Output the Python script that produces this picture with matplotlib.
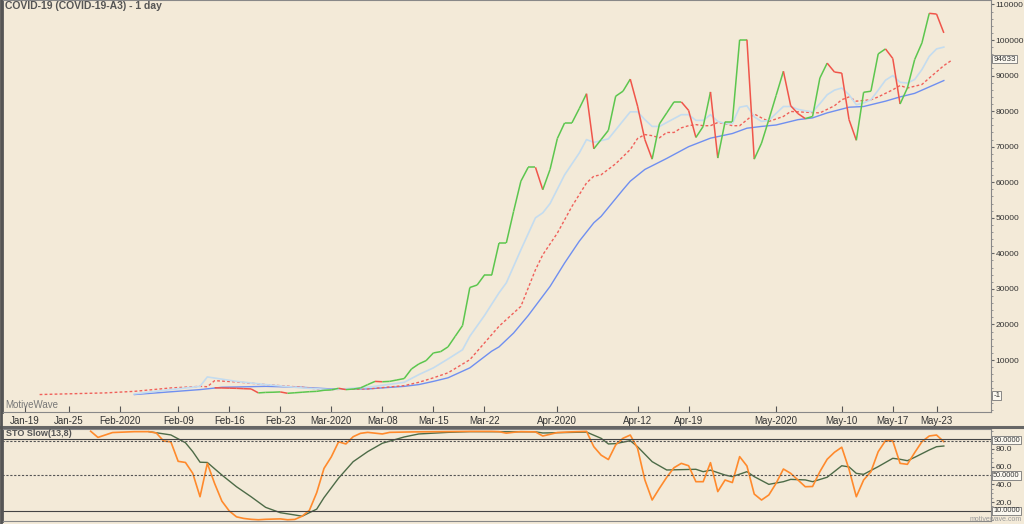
#!/usr/bin/env python
# coding: utf-8
import matplotlib
matplotlib.use("Agg")
import matplotlib.pyplot as plt
import matplotlib.dates as mdates
from matplotlib.collections import LineCollection
from matplotlib.lines import Line2D
from matplotlib.ticker import FixedLocator, MultipleLocator
import numpy as np
import pandas as pd

plt.rcParams['font.family'] = ['Liberation Sans', 'DejaVu Sans']

# daily value line, one value per day starting Feb 14
close_start = '2020-02-14'
close = [2200, 2150, 2100, 2050, 1950, 1880, 760, 900, 950, 1040,
         650, 800, 950, 1100, 1200, 1500, 1600, 2060, 1690, 1850,
         2160, 3100, 4000, 3900, 4000, 4400, 4800, 7500, 8900, 9840,
         12000, 12370, 13700, 16700, 19700, 30400, 31100, 33900, 33900, 42900,
         42900, 51800, 60300, 64200, 64200, 57900, 63600, 72300, 76700, 76700,
         80700, 84900, 69400, 72000, 74600, 84200, 85600, 89000, 81400, 72000,
         66500, 76400, 79500, 82600, 82600, 80200, 72600, 75700, 85400, 66800,
         77000, 77000, 100100, 100100, 66500, 71000, 77600, 84400, 91200, 81500,
         79300, 77900, 78500, 89300, 93500, 91000, 90700, 77600, 71800, 85300,
         85600, 96100, 97500, 94800, 82000, 86500, 94500, 99200, 107500, 107300,
         102000]

fast_dates = ['2020-02-03', '2020-02-08', '2020-02-12', '2020-02-13', '2020-02-17',
              '2020-02-21', '2020-02-26', '2020-03-01', '2020-03-06', '2020-03-11',
              '2020-03-13', '2020-03-15', '2020-03-17', '2020-03-19', '2020-03-20',
              '2020-03-22', '2020-03-24', '2020-03-25', '2020-03-27', '2020-03-29',
              '2020-03-30', '2020-03-31', '2020-04-02', '2020-04-04', '2020-04-05',
              '2020-04-06', '2020-04-08', '2020-04-11', '2020-04-12', '2020-04-13',
              '2020-04-14', '2020-04-15', '2020-04-16', '2020-04-18', '2020-04-19',
              '2020-04-20', '2020-04-21', '2020-04-22', '2020-04-23', '2020-04-24',
              '2020-04-25', '2020-04-26', '2020-04-27', '2020-04-28', '2020-04-29',
              '2020-04-30', '2020-05-02', '2020-05-03', '2020-05-04', '2020-05-05',
              '2020-05-06', '2020-05-07', '2020-05-08', '2020-05-09', '2020-05-10',
              '2020-05-11', '2020-05-12', '2020-05-13', '2020-05-14', '2020-05-15',
              '2020-05-16', '2020-05-17', '2020-05-18', '2020-05-19', '2020-05-20',
              '2020-05-21', '2020-05-22', '2020-05-23', '2020-05-24']
fast_ma = [480, 1690, 2600, 5250, 4000, 3100, 2160, 1690, 2340, 3740,
           5900, 7800, 10300, 12900, 16700, 22500, 28900, 31700, 41000, 50000,
           51400, 54000, 62100, 68200, 72000, 71200, 72200, 79800, 79800, 77600,
           75700, 75700, 76800, 79000, 79000, 77400, 77400, 79000, 77100, 76500,
           76500, 81100, 81500, 78400, 77100, 77400, 81300, 81300, 80500, 80100,
           79800, 82100, 84600, 85900, 86500, 84600, 81800, 82300, 83200, 85900,
           88700, 90000, 88100, 87900, 88900, 91700, 95400, 97500, 98000]

mid_dates = ['2020-01-21', '2020-01-30', '2020-02-03', '2020-02-08', '2020-02-12',
             '2020-02-13', '2020-02-14', '2020-02-17', '2020-02-21', '2020-02-26',
             '2020-02-29', '2020-03-06', '2020-03-11', '2020-03-13', '2020-03-15',
             '2020-03-17', '2020-03-20', '2020-03-22', '2020-03-24', '2020-03-27',
             '2020-03-29', '2020-03-30', '2020-04-01', '2020-04-03', '2020-04-05',
             '2020-04-06', '2020-04-07', '2020-04-09', '2020-04-11', '2020-04-12',
             '2020-04-13', '2020-04-14', '2020-04-15', '2020-04-16', '2020-04-17',
             '2020-04-18', '2020-04-19', '2020-04-20', '2020-04-21', '2020-04-22',
             '2020-04-23', '2020-04-24', '2020-04-25', '2020-04-26', '2020-04-28',
             '2020-04-29', '2020-04-30', '2020-05-02', '2020-05-03', '2020-05-05',
             '2020-05-07', '2020-05-09', '2020-05-10', '2020-05-11', '2020-05-12',
             '2020-05-13', '2020-05-14', '2020-05-15', '2020-05-17', '2020-05-18',
             '2020-05-19', '2020-05-21', '2020-05-22', '2020-05-24', '2020-05-25']
mid_ma = [300, 760, 1200, 2160, 2600, 2500, 4200, 3850, 3100, 2340,
          1690, 1880, 2800, 3740, 5000, 6400, 10100, 14800, 19500, 25100,
          35400, 39600, 45700, 53200, 59800, 61700, 62100, 65200, 69200, 72300,
          73400, 73100, 72500, 74000, 74000, 75300, 75900, 76200, 75900, 75900,
          76800, 76500, 75900, 75900, 79200, 78100, 77100, 78500, 79900, 79700,
          79500, 81500, 83200, 84000, 82800, 83000, 83200, 84000, 86000, 87200,
          86500, 87500, 89300, 92800, 94200]

slow_dates = ['2020-02-03', '2020-02-12', '2020-02-15', '2020-02-21', '2020-02-26',
              '2020-03-01', '2020-03-06', '2020-03-11', '2020-03-13', '2020-03-15',
              '2020-03-17', '2020-03-20', '2020-03-23', '2020-03-24', '2020-03-26',
              '2020-03-28', '2020-03-31', '2020-04-02', '2020-04-04', '2020-04-06',
              '2020-04-07', '2020-04-10', '2020-04-11', '2020-04-13', '2020-04-16',
              '2020-04-19', '2020-04-22', '2020-04-25', '2020-04-27', '2020-04-29',
              '2020-05-01', '2020-05-04', '2020-05-06', '2020-05-08', '2020-05-11',
              '2020-05-13', '2020-05-16', '2020-05-18', '2020-05-20', '2020-05-22',
              '2020-05-24']
slow_ma = [300, 1690, 2340, 2600, 2340, 1880, 1880, 2600, 3100, 4000,
           5000, 7800, 12500, 13700, 17600, 22500, 30700, 37300, 43400, 48600,
           50400, 57900, 60300, 63600, 66700, 70000, 72400, 73700, 75200, 75700,
           76100, 77600, 78100, 79500, 81100, 81300, 82800, 84000, 85000, 86800,
           88600]

# stochastic slow (13,8)
k_dates = ['2020-01-28', '2020-01-29', '2020-01-31', '2020-02-03', '2020-02-05',
           '2020-02-06', '2020-02-07', '2020-02-08', '2020-02-09', '2020-02-10',
           '2020-02-11', '2020-02-12', '2020-02-13', '2020-02-14', '2020-02-15',
           '2020-02-16', '2020-02-17', '2020-02-18', '2020-02-19', '2020-02-20',
           '2020-02-21', '2020-02-23', '2020-02-24', '2020-02-25', '2020-02-26',
           '2020-02-27', '2020-02-28', '2020-02-29', '2020-03-01', '2020-03-02',
           '2020-03-03', '2020-03-04', '2020-03-05', '2020-03-06', '2020-03-08',
           '2020-03-09', '2020-03-12', '2020-03-16', '2020-03-20', '2020-03-23',
           '2020-03-24', '2020-03-25', '2020-03-26', '2020-03-27', '2020-03-29',
           '2020-03-30', '2020-03-31', '2020-04-01', '2020-04-03', '2020-04-05',
           '2020-04-06', '2020-04-07', '2020-04-08', '2020-04-09', '2020-04-10',
           '2020-04-11', '2020-04-12', '2020-04-13', '2020-04-14', '2020-04-15',
           '2020-04-16', '2020-04-17', '2020-04-18', '2020-04-19', '2020-04-20',
           '2020-04-21', '2020-04-22', '2020-04-23', '2020-04-24', '2020-04-25',
           '2020-04-26', '2020-04-27', '2020-04-28', '2020-04-29', '2020-04-30',
           '2020-05-01', '2020-05-02', '2020-05-03', '2020-05-04', '2020-05-05',
           '2020-05-06', '2020-05-07', '2020-05-08', '2020-05-09', '2020-05-10',
           '2020-05-11', '2020-05-12', '2020-05-13', '2020-05-14', '2020-05-15',
           '2020-05-16', '2020-05-17', '2020-05-18', '2020-05-19', '2020-05-20',
           '2020-05-21', '2020-05-22', '2020-05-23', '2020-05-24']
k_vals = [100, 93, 98.5, 99.5, 99.5, 98, 89, 88, 66, 64.7,
          52.5, 26, 63.7, 41, 21, 10, 3.3, 1.5, 0.5, 0,
          0.5, 1, 0, 0.4, 4, 10.7, 30.6, 58, 71, 88,
          85.6, 93.8, 97.6, 98.7, 96.9, 98.7, 99.2, 99.5, 99.8, 99.8,
          99.5, 97.8, 98.8, 99.5, 99.2, 94.6, 96.5, 98.5, 99.3, 99.8,
          82.5, 73, 68, 84.5, 92, 95.7, 80.7, 45, 22.3, 35.5,
          48, 58.8, 63.7, 61, 43, 43, 64.5, 31.8, 44.9, 42,
          71.3, 60.7, 29, 22.3, 28, 41.2, 57.3, 52.4, 44.9, 37.3,
          37.6, 54.3, 68.3, 76.2, 81.9, 57, 26, 44.9, 54.3, 76.9,
          89.3, 89, 63.7, 62.6, 75.8, 88.2, 94.6, 95.7, 88.2]

d_dates = ['2020-02-05', '2020-02-08', '2020-02-10', '2020-02-11', '2020-02-12',
           '2020-02-13', '2020-02-15', '2020-02-17', '2020-02-19', '2020-02-21',
           '2020-02-23', '2020-02-25', '2020-02-26', '2020-02-28', '2020-02-29',
           '2020-03-02', '2020-03-04', '2020-03-06', '2020-03-08', '2020-03-11',
           '2020-03-13', '2020-03-17', '2020-03-20', '2020-03-29', '2020-03-30',
           '2020-04-05', '2020-04-07', '2020-04-08', '2020-04-09', '2020-04-11',
           '2020-04-12', '2020-04-14', '2020-04-16', '2020-04-18', '2020-04-20',
           '2020-04-21', '2020-04-22', '2020-04-24', '2020-04-25', '2020-04-27',
           '2020-04-28', '2020-04-30', '2020-05-02', '2020-05-03', '2020-05-05',
           '2020-05-06', '2020-05-08', '2020-05-10', '2020-05-11', '2020-05-12',
           '2020-05-13', '2020-05-15', '2020-05-17', '2020-05-18', '2020-05-19',
           '2020-05-20', '2020-05-22', '2020-05-23', '2020-05-24']
d_vals = [99.5, 95.8, 87, 77, 65, 64.7, 50.5, 37.3, 26, 14,
          8, 5.4, 4, 12, 25, 47, 65.6, 77, 86.4, 93.5,
          96.9, 98.7, 99.5, 99.3, 98, 99, 92, 85.6, 86, 89.3,
          82.5, 65.6, 56.2, 56.6, 57, 54.3, 56, 50.5, 48.7, 54.3,
          48.7, 40, 43, 45.6, 45, 43, 48, 61, 59.7, 52.4,
          51.3, 60, 69.4, 68.3, 66.7, 70.5, 78.8, 82.5, 83.3]

tick_dates = ['2020-01-19', '2020-01-25', '2020-02-01', '2020-02-09', '2020-02-16',
              '2020-02-23', '2020-03-01', '2020-03-08', '2020-03-15', '2020-03-22',
              '2020-04-01', '2020-04-12', '2020-04-19', '2020-05-01', '2020-05-10',
              '2020-05-17', '2020-05-23']
tick_labels = ['Jan-19', 'Jan-25', 'Feb-2020', 'Feb-09', 'Feb-16', 'Feb-23', 'Mar-2020',
               'Mar-08', 'Mar-15', 'Mar-22', 'Apr-2020', 'Apr-12', 'Apr-19', 'May-2020',
               'May-10', 'May-17', 'May-23']

last_mid = 94633

BG = '#f3ead8'
TXT = '#333333'


def main():
	fig = plt.figure(figsize=(10.24, 5.24), dpi=100, facecolor=BG)
	ax = fig.add_axes([0.002, 1 - 412 / 524, 0.966, 412 / 524])
	ax2 = fig.add_axes([0.002, 1 - 521 / 524, 0.966, 92 / 524], sharex=ax)
	for a in (ax, ax2):
		a.set_facecolor(BG)
		for s in a.spines.values():
			s.set_color('#888888')
			s.set_linewidth(0.8)
		a.spines['left'].set_color('#555555')
		a.spines['left'].set_linewidth(2)
		a.yaxis.tick_right()

	# price line coloured by direction
	cd = mdates.date2num(pd.date_range(close_start, periods=len(close), freq='D'))
	cv = np.array(close, dtype=float)
	segs = [[(cd[i - 1], cv[i - 1]), (cd[i], cv[i])] for i in range(1, len(cv))]
	cols = ['#5cc64e' if cv[i] >= cv[i - 1] else '#f0554a' for i in range(1, len(cv))]

	ax.plot(pd.to_datetime(slow_dates), slow_ma, color='#6f8ff0', lw=1.0)
	ax.plot(pd.to_datetime(mid_dates), mid_ma, color='#f0605a', lw=1.0, ls=(0, (2, 1.6)))
	ax.plot(pd.to_datetime(fast_dates), fast_ma, color='#c4dcef', lw=1.2)
	ax.add_collection(LineCollection(segs, colors=cols, linewidths=1.1))

	start = pd.Timestamp('2020-01-19')
	ax.set_xlim(mdates.date2num(start) - 3.15, mdates.date2num(start) + 132.5)
	ax.set_ylim(-4610, 111250)

	ax.yaxis.set_major_locator(FixedLocator(list(range(10000, 110001, 10000))))
	ax.yaxis.set_minor_locator(MultipleLocator(2000))
	ax.tick_params(axis='y', which='major', direction='out', length=2.5, pad=0.8,
	               labelsize=6, colors='#666666', labelcolor=TXT)
	ax.tick_params(axis='y', which='minor', direction='out', length=1.3, colors='#888888')

	ax.xaxis.set_major_locator(FixedLocator(mdates.date2num(pd.to_datetime(tick_dates))))
	ax.set_xticklabels(tick_labels)
	ax.tick_params(axis='x', direction='in', length=4, pad=3, labelsize=7,
	               colors='#555555', labelcolor=TXT)
	ax.xaxis.set_minor_locator(FixedLocator([]))

	# last value markers
	box = dict(boxstyle='square,pad=0.1', fc='#fbf8f0', ec='#777777', lw=0.6)
	ax.text(1.002, last_mid, str(last_mid), transform=ax.get_yaxis_transform(),
	        fontsize=5.8, color=TXT, va='center', ha='left', bbox=box, clip_on=False)
	ax.text(1.002, -1, '-1', transform=ax.get_yaxis_transform(),
	        fontsize=5.8, color=TXT, va='center', ha='left', bbox=box, clip_on=False)

	ax.text(0.003, 0.985, 'COVID-19 (COVID-19-A3) - 1 day', transform=ax.transAxes,
	        fontsize=7.5, weight='bold', color='#555555', va='center')
	ax.text(0.003, 0.017, 'MotiveWave', transform=ax.transAxes,
	        fontsize=7, color='#777777', va='center')

	# stochastic panel
	ax2.plot(pd.to_datetime(d_dates), d_vals, color='#4d6b47', lw=1.0)
	ax2.plot(pd.to_datetime(k_dates), k_vals, color='#ff8a2c', lw=1.2)
	ax2.axhline(90.8, color='#444444', lw=0.8)
	ax2.axhline(89.0, color='#555555', lw=0.8, ls=(0, (2, 1.5)))
	ax2.axhline(50, color='#555555', lw=0.8, ls=(0, (2, 1.5)))
	ax2.axhline(10, color='#444444', lw=0.8)
	ax2.set_ylim(-1.4, 102.5)
	ax2.yaxis.set_major_locator(FixedLocator([20, 40, 60, 80]))
	ax2.set_yticklabels(['20.0', '40.0', '60.0', '80.0'])
	ax2.yaxis.set_minor_locator(MultipleLocator(5))
	ax2.tick_params(axis='y', which='major', direction='out', length=2.5, pad=0.8,
	                labelsize=6, colors='#666666', labelcolor=TXT)
	ax2.tick_params(axis='y', which='minor', direction='out', length=1.3, colors='#888888')
	ax2.tick_params(axis='x', length=0, labelbottom=False)
	for lvl in (90, 50, 10):
		ax2.text(1.002, lvl, '%.4f' % lvl, transform=ax2.get_yaxis_transform(),
		         fontsize=5.3, color=TXT, va='center', ha='left', bbox=box, clip_on=False)
	ax2.text(0.004, 0.955, 'STO Slow(13,8)', transform=ax2.transAxes,
	         fontsize=6.5, weight='bold', color='#555555', va='center')
	fig.text(0.998, 0.001, 'motivewave.com', fontsize=5, color='#999999',
	         ha='right', va='bottom')

	# separator between panels
	fig.add_artist(Line2D([0, 1], [1 - 426.5 / 524] * 2, color='#666666', lw=2.2))
	fig.add_artist(Line2D([0.001, 0.001], [0, 1], color='#555555', lw=2))

	fig.savefig('out.png', dpi=100, facecolor=BG)


if __name__ == '__main__':
	main()
